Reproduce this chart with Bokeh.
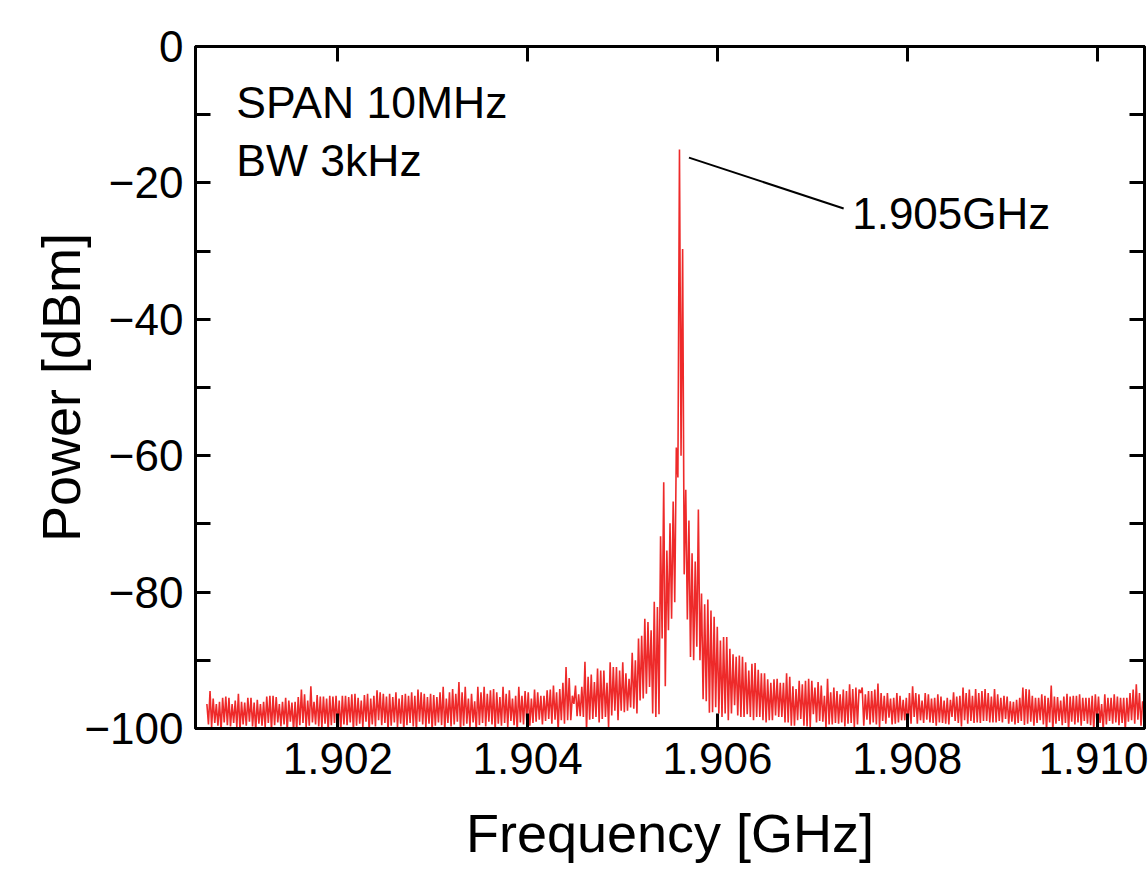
import numpy as np
from bokeh.plotting import figure
from bokeh.models import Range1d, FixedTicker, LinearAxis, Label, PrintfTickFormatter
from bokeh.embed import file_html
from bokeh.resources import INLINE

# ---------------- data ----------------
# sweep end points of the trace (GHz)
F_START = 1.90062
F_STOP = 1.91048

# trace alternates between an upper sample and a lower sample (dBm)
# left noise floor, 1.9006 - 1.9020 GHz
hi_floor_left = [-96.4, -94.5, -95.6, -96.4, -96.1, -95.5, -95.3, -95.5, -96.4, -95.9,
                 -94.9, -96.1, -96.2, -95.5, -95.5, -96.2, -95.8, -96.4, -96.1, -95.3,
                 -95.2, -95.2, -95.4, -96.4, -96.1, -95.5, -95.9, -96.2, -96.1, -95.4,
                 -94.3, -95.0, -95.9, -93.8, -96.1, -95.1, -95.3, -95.3, -95.6, -95.2,
                 -95.3, -95.2, -95.9, -95.2]
lo_floor_left = [-99.4, -99.8, -99.2, -99.6, -100.3, -99.1, -99.5, -99.7, -99.2, -99.8,
                 -100.3, -99.4, -99.6, -99.0, -99.7, -100.3, -99.3, -99.6, -99.8, -99.2,
                 -100.3, -99.5, -99.1, -99.7, -99.4, -100.3, -99.0, -100.3, -100.3, -99.5,
                 -99.2, -99.8, -99.6, -99.1, -99.4, -99.7, -99.9, -99.3, -100.3, -99.5,
                 -99.2, -99.6, -100.3, -99.4]
# left noise floor, 1.9020 - 1.9042 GHz
hi_floor_mid = [-95.2, -95.4, -95.0, -94.9, -95.5, -95.9, -95.1, -94.9, -95.6, -95.2,
                -94.4, -94.7, -94.9, -95.3, -94.9, -95.4, -94.7, -95.6, -95.1, -94.9,
                -95.2, -94.7, -95.2, -94.3, -94.7, -94.9, -95.4, -94.9, -95.1, -95.4,
                -94.7, -93.9, -95.6, -94.7, -94.2, -94.9, -93.2, -94.7, -93.9, -95.6,
                -94.9, -96.0, -93.9, -94.7, -93.9, -94.9, -94.4, -94.2, -94.7, -95.4,
                -93.9, -94.9, -94.4, -95.6, -95.2, -93.9, -95.2, -94.5, -94.7, -95.6,
                -94.3, -94.7, -95.2, -95.2, -94.4, -94.3, -93.7, -94.7, -94.2]
lo_floor_mid = [-99.5, -99.1, -100.3, -99.6, -99.3, -99.8, -99.0, -100.3, -99.4, -99.7,
                -98.8, -99.5, -99.2, -100.3, -99.6, -99.1, -99.8, -99.3, -100.3, -99.5,
                -99.2, -99.7, -100.3, -99.0, -99.4, -99.8, -99.3, -100.3, -99.6, -99.1,
                -99.5, -100.3, -99.2, -99.7, -99.4, -99.0, -100.3, -99.6, -99.3, -99.8,
                -99.1, -100.3, -99.5, -99.2, -99.7, -99.0, -99.4, -100.3, -99.3, -99.6,
                -99.2, -99.8, -98.9, -99.5, -100.3, -99.1, -99.4, -98.8, -99.6, -99.2,
                -99.0, -98.7, -99.4, -98.9, -98.6, -99.3, -98.7, -100.3, -98.8]
# lower skirt
hi_skirt_low = [-93.3, -91.0, -92.6, -95.2, -93.7, -95.0, -93.9, -90.2, -92.4, -92.1,
                -93.2, -91.2, -91.5]
lo_skirt_low = [-99.3, -98.8, -98.8, -96.4, -98.2, -98.2, -98.3, -100.3, -98.7, -98.6,
                -98.3, -99.1, -98.6]
# rising skirt up to the carrier
hi_skirt_rise = [-91.5, -93.3, -90.3, -91.0, -91.0, -91.5, -90.3, -91.9, -92.7, -88.9,
                 -90.0, -86.8, -86.4, -83.9, -84.4, -85.6, -81.4, -82.2, -71.8, -63.9,
                 -73.9, -69.9, -66.7, -58.8]
lo_skirt_rise = [-98.3, -99.8, -98.1, -97.4, -98.8, -97.4, -97.6, -97.4, -96.9, -97.1,
                 -97.8, -95.9, -95.6, -94.9, -93.9, -97.8, -98.3, -97.9, -86.8, -93.8,
                 -85.6, -83.9, -81.5, -63.2]
# carrier and falling skirt
hi_carrier = [-15.1, -29.7, -65.0, -69.5, -74.3, -75.5, -67.9, -80.2, -81.8, -81.1,
              -82.7, -83.6, -85.1, -87.1, -86.6, -86.6, -88.3, -89.1, -89.5, -89.3,
              -89.5, -90.3, -91.5, -90.5, -90.4, -91.4, -91.9, -91.9, -92.8, -93.3,
              -92.8, -92.7, -93.3, -93.3, -91.9, -92.4, -93.8, -94.2]
lo_carrier = [-60.0, -77.4, -84.0, -89.5, -90.0, -88.0, -90.0, -95.7, -96.0, -97.7,
              -97.6, -96.9, -97.8, -98.3, -97.8, -98.8, -97.8, -96.6, -98.1, -98.3,
              -98.3, -97.9, -98.3, -98.8, -98.3, -98.3, -98.8, -99.1, -98.8, -98.8,
              -98.1, -98.3, -98.3, -99.1, -99.1, -99.6, -99.6, -98.8]
# right noise floor, 1.9068 - 1.9088 GHz
hi_floor_right = [-93.0, -93.5, -93.0, -92.7, -93.0, -94.0, -93.2, -93.7, -95.2, -92.7,
                  -94.7, -94.0, -94.5, -95.0, -94.3, -94.5, -93.5, -94.2, -94.0, -94.3,
                  -94.0, -95.0, -94.5, -94.5, -94.3, -93.4, -94.8, -95.2, -94.8, -95.6,
                  -95.5, -94.8, -95.2, -95.8, -95.5, -94.8, -93.8, -94.8, -95.0, -95.9,
                  -94.8, -95.0, -95.6, -95.5, -95.0, -95.3, -95.9, -95.5, -95.8, -94.7,
                  -95.3, -95.2, -94.0, -94.8, -94.3, -95.2, -94.2, -94.8, -94.5, -94.2,
                  -94.8, -95.3, -94.2, -95.0]
lo_floor_right = [-98.6, -99.6, -99.7, -99.8, -97.9, -99.1, -98.9, -99.0, -99.8, -99.4,
                  -99.4, -99.2, -99.3, -99.1, -99.7, -99.3, -99.2, -99.8, -99.4, -94.8,
                  -99.6, -98.7, -99.4, -99.1, -99.4, -99.8, -98.9, -99.3, -98.4, -99.4,
                  -99.3, -99.1, -98.8, -98.8, -99.8, -99.3, -98.3, -99.3, -98.8, -99.2,
                  -98.7, -99.1, -99.2, -99.6, -99.1, -99.2, -99.3, -99.4, -98.3, -98.9,
                  -99.2, -99.7, -98.8, -99.3, -98.9, -99.2, -99.1, -99.2, -98.9, -98.9,
                  -99.1, -99.1, -99.1, -98.9]
# far right noise floor, 1.9088 - 1.9105 GHz
hi_floor_end = [-95.5, -95.2, -95.3, -96.0, -96.1, -95.8, -95.5, -94.0, -94.2, -94.3,
                -95.2, -95.5, -95.5, -95.0, -95.2, -95.5, -93.7, -95.3, -95.4, -95.9,
                -95.3, -94.9, -95.3, -95.2, -95.2, -95.0, -95.5, -95.5, -95.5, -95.2,
                -95.0, -95.3, -96.4, -95.0, -95.5, -95.5, -95.0, -95.3, -95.5, -95.5,
                -95.5, -94.8, -94.3, -93.5, -94.8, -96.0]
lo_floor_end = [-99.1, -98.6, -99.3, -99.0, -99.4, -99.2, -98.9, -99.5, -99.3, -99.0,
                -99.6, -99.2, -98.8, -99.4, -100.3, -99.1, -100.3, -99.3, -98.9, -99.5,
                -99.2, -100.3, -99.0, -99.4, -99.1, -99.6, -98.9, -99.3, -99.5, -100.3,
                -99.0, -99.2, -100.3, -99.4, -98.9, -99.3, -99.1, -99.5, -99.2, -100.3,
                -99.0, -98.8, -99.3, -98.7, -99.6]

# tick labels
X_TICKS = [1.902, 1.904, 1.906, 1.908, 1.910]
Y_TICKS = [0, -20, -40, -60, -80, -100]
Y_MINOR = [-10, -30, -50, -70, -90]

# annotations
INFO_LINES = ["SPAN 10MHz", "BW 3kHz"]
MARKER_TEXT = "1.905GHz"

# ---------------- assemble trace ----------------
hi = (hi_floor_left + hi_floor_mid + hi_skirt_low + hi_skirt_rise + hi_carrier
      + hi_floor_right + hi_floor_end)
lo = (lo_floor_left + lo_floor_mid + lo_skirt_low + lo_skirt_rise + lo_carrier
      + lo_floor_right + lo_floor_end)
power = []
for k in range(len(hi)):
    power.append(hi[k])
    if k < len(lo):
        power.append(lo[k])
power = np.array(power)
freq = np.linspace(F_START, F_STOP, len(power))
peak_i = int(np.argmax(power))
peak_f, peak_p = freq[peak_i], power[peak_i]

FONT = "Liberation Sans"

p = figure(width=1148, height=869,
           x_range=Range1d(1.9005, 1.9105), y_range=Range1d(-100, 0),
           output_backend="svg", toolbar_location=None,
           x_axis_label="Frequency [GHz]", y_axis_label="Power [dBm]",
           min_border_left=195, min_border_right=4, min_border_top=46,
           min_border_bottom=141)
p.background_fill_color = "white"
p.border_fill_color = "white"
p.xgrid.visible = False
p.ygrid.visible = False
p.outline_line_color = "black"
p.outline_line_width = 3

xt = FixedTicker(ticks=X_TICKS, minor_ticks=[])
yt = FixedTicker(ticks=Y_TICKS, minor_ticks=Y_MINOR)


def style(ax, labels=True):
    ax.axis_line_width = 3
    ax.axis_line_color = "black"
    ax.major_tick_line_width = 3
    ax.minor_tick_line_width = 3
    ax.major_tick_in = 15
    ax.major_tick_out = 0
    ax.minor_tick_in = 15
    ax.minor_tick_out = 0
    ax.major_label_text_font = FONT
    ax.axis_label_text_font = FONT
    ax.axis_label_text_font_style = "normal"
    ax.axis_label_text_color = "black"
    ax.axis_label_text_font_size = "54px"
    if labels:
        ax.major_label_text_color = "black"
        ax.major_label_text_font_size = "44px"
        ax.major_label_standoff = 15
    else:
        ax.major_label_text_color = None
        ax.major_label_text_font_size = "1px"
        ax.major_label_standoff = 0


xa = p.xaxis[0]
xa.ticker = xt
xa.formatter = PrintfTickFormatter(format="%.3f")
style(xa)
xa.major_label_standoff = 14
xa.axis_label_standoff = 26

ya = p.yaxis[0]
ya.ticker = yt
style(ya)
ya.major_label_standoff = 12
ya.axis_label_standoff = -10

top = LinearAxis(ticker=xt, minor_tick_line_color=None)
style(top, labels=False)
p.add_layout(top, "above")
right = LinearAxis(ticker=yt)
style(right, labels=False)
p.add_layout(right, "right")

p.line(freq, power, line_color="#ee2a2a", line_width=1.6)

# info text
p.add_layout(Label(x=1.90093, y=-8.25, text=INFO_LINES[0], text_font=FONT,
                   text_font_size="44.5px", text_baseline="alphabetic", text_color="black"))
p.add_layout(Label(x=1.90093, y=-16.65, text=INFO_LINES[1], text_font=FONT,
                   text_font_size="44.5px", text_baseline="alphabetic", text_color="black"))

# marker leader line and text
LEAD_DX0, LEAD_DY0 = 0.0001, -1.2
LEAD_X1, LEAD_Y1 = 1.90733, -23.75
p.line([peak_f + LEAD_DX0, LEAD_X1], [peak_p + LEAD_DY0, LEAD_Y1],
       line_color="black", line_width=2)
p.add_layout(Label(x=1.90742, y=-24.45, text=MARKER_TEXT, text_font=FONT,
                   text_font_size="44px", text_baseline="alphabetic", text_color="black"))

open("out.html", "w").write(file_html(p, INLINE))
